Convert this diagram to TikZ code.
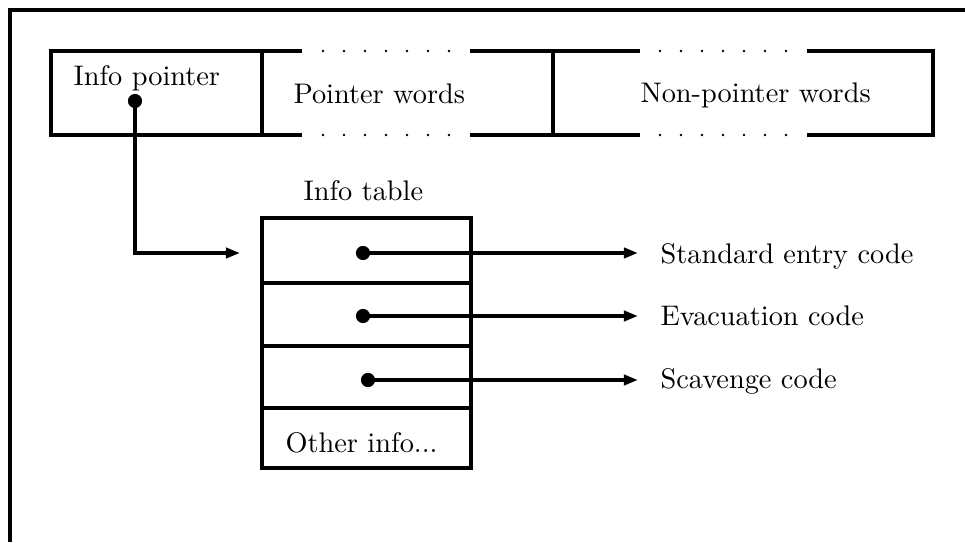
\documentclass[tikz,border=0pt]{standalone}
\usetikzlibrary{arrows.meta}
\begin{document}
\begin{tikzpicture}[x=0.353pt,y=-0.353pt,
  rec/.style={line width=1.3pt},
  lbl/.style={inner sep=0pt,anchor=base west},
  ptr/.style={line width=1.3pt,-{Triangle[length=5pt,width=3.6pt]}},
  blob/.style={circle,fill=black,inner sep=0pt,minimum size=5pt}]
\useasboundingbox (0,0) rectangle (965,542);
% outer frame
\draw[line width=1.6pt] (10,542) -- (10,10) -- (965,10);
% closure record
\draw[rec] (302,51) -- (51,51) -- (51,135) -- (302,135);
\draw[rec] (470,51) -- (640,51);
\draw[rec] (470,135) -- (640,135);
\draw[rec] (807,51) -- (933,51) -- (933,135) -- (807,135);
\draw[rec] (262,51) -- (262,135);
\draw[rec] (553,51) -- (553,135);
\foreach \k in {0,...,6}{
  \fill (323+21*\k,51) circle (1.3);
  \fill (323+21*\k,135) circle (1.3);
  \fill (660+21*\k,51) circle (1.3);
  \fill (660+21*\k,135) circle (1.3);
}
\node[lbl] (ip) at (73,85) {Info pointer};
\node[lbl] (pw) at (293,103) {Pointer words};
\node[lbl] (npw) at (640,102) {Non-pointer words};
% info table
\node[lbl] (it) at (303,200) {Info table};
\draw[rec] (262,218) rectangle (471,468);
\draw[rec] (262,283) -- (471,283);
\draw[rec] (262,346) -- (471,346);
\draw[rec] (262,408) -- (471,408);
\node[lbl] (oi) at (285,452) {Other info...};
% pointers
\node[blob] (d0) at (135,101) {};
\node[blob] (d1) at (363,253) {};
\node[blob] (d2) at (363,316) {};
\node[blob] (d3) at (368,380) {};
\coordinate (tin) at (240,253);
\coordinate (e1) at (638,253);
\coordinate (e2) at (638,316);
\coordinate (e3) at (638,380);
\draw[ptr] (d0.center) |- (tin);
\draw[ptr] (d1.center) -- (e1);
\draw[ptr] (d2.center) -- (e2);
\draw[ptr] (d3.center) -- (e3);
\node[lbl] (sec) at (660,263) {Standard entry code};
\node[lbl] (evc) at (660,325) {Evacuation code};
\node[lbl] (scc) at (660,388) {Scavenge code};
\end{tikzpicture}
\end{document}
